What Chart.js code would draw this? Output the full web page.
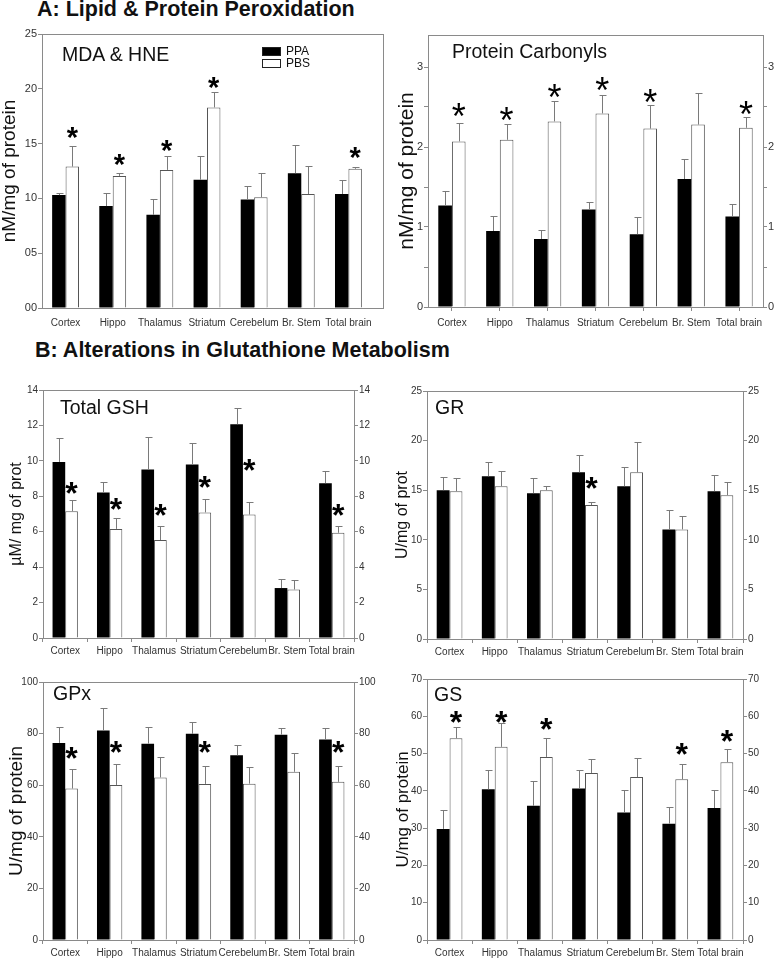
<!DOCTYPE html>
<html>
<head>
<meta charset="utf-8">
<script src="https://cdn.jsdelivr.net/npm/chart.js@4.4.1/dist/chart.umd.min.js"></script>
<style>
  body { margin: 0; background: #fff; width: 775px; height: 960px; position: relative; overflow: hidden;
         font-family: "Liberation Sans", Arial, sans-serif; color: #111; }
  canvas { position: absolute; }
  .head { position: absolute; font-weight: bold; font-size: 21.5px; line-height: 21.5px; white-space: nowrap; }
  .name { position: absolute; font-size: 19.5px; line-height: 19.5px; white-space: nowrap; }
  .key { position: absolute; font-size: 12px; line-height: 12px; white-space: nowrap; }
  .sw { position: absolute; width: 17px; height: 7px; border: 1px solid #222; }
</style>
</head>
<body>
<div class="head" style="left:37px; top:-1px;">A: Lipid &amp; Protein Peroxidation</div>
<div class="head" style="left:35px; top:340px;">B: Alterations in Glutathione Metabolism</div>

<canvas id="mda" width="387" height="320" style="left:0; top:20px;"></canvas>
<canvas id="carb" width="387" height="320" style="left:388px; top:20px;"></canvas>
<canvas id="gsh" width="387" height="285" style="left:0; top:375px;"></canvas>
<canvas id="gr" width="387" height="285" style="left:388px; top:375px;"></canvas>
<canvas id="gpx" width="387" height="295" style="left:0; top:665px;"></canvas>
<canvas id="gs" width="387" height="295" style="left:388px; top:665px;"></canvas>

<div class="name" style="left:62px; top:45px;">MDA &amp; HNE</div>
<div class="name" style="left:452px; top:42px;">Protein Carbonyls</div>
<div class="name" style="left:60px; top:398px;">Total GSH</div>
<div class="name" style="left:435px; top:398px;">GR</div>
<div class="name" style="left:53px; top:684px;">GPx</div>
<div class="name" style="left:434px; top:685px;">GS</div>

<div class="sw" style="left:262px; top:47px; background:#000;"></div>
<div class="key" style="left:286px; top:45px;">PPA</div>
<div class="sw" style="left:262px; top:59px; background:#fff;"></div>
<div class="key" style="left:286px; top:57px;">PBS</div>

<script>
const regions = ['Cortex', 'Hippo', 'Thalamus', 'Striatum', 'Cerebelum', 'Br. Stem', 'Total brain'];

// A: MDA & HNE (nM/mg of protein)
const mdaPPA = [10.3, 9.3, 8.5, 11.7, 9.9, 12.3, 10.4];
const mdaPPAerr = [0.15, 1.15, 1.4, 2.15, 1.2, 2.6, 1.3];
const mdaPBS = [12.9, 12.05, 12.6, 18.3, 10.1, 10.4, 12.7];
const mdaPBSerr = [1.9, 0.25, 1.3, 1.4, 2.2, 2.6, 0.2];
const mdaStars = [16.2, 13.8, 15.0, 20.8, null, null, 14.4];
const mdaTicks = ['00', '05', '10', '15', '20', '25'];

// A: Protein carbonyls (nM/mg of protein)
const carbPPA = [1.27, 0.95, 0.85, 1.22, 0.91, 1.6, 1.13];
const carbPPAerr = [0.18, 0.19, 0.11, 0.09, 0.22, 0.25, 0.16];
const carbPBS = [2.07, 2.09, 2.32, 2.42, 2.23, 2.28, 2.24];
const carbPBSerr = [0.23, 0.2, 0.26, 0.23, 0.29, 0.39, 0.13];
const carbStars = [2.49, 2.43, 2.72, 2.81, 2.66, null, 2.51];

// B: Total GSH (uM/mg of prot)
const gshPPA = [9.94, 8.21, 9.51, 9.79, 12.07, 2.82, 8.74];
const gshPPAerr = [1.36, 0.57, 1.86, 1.24, 0.93, 0.51, 0.66];
const gshPBS = [7.16, 6.16, 5.53, 7.09, 6.97, 2.74, 5.94];
const gshPBSerr = [0.64, 0.64, 0.77, 0.78, 0.72, 0.51, 0.41];
const gshStars = [8.64, 7.7, 7.39, 8.96, 9.92, null, 7.37];

// B: GR (U/mg of prot)
const grPPA = [15.0, 16.4, 14.7, 16.8, 15.4, 11.05, 14.9];
const grPPAerr = [1.3, 1.4, 1.55, 1.7, 1.9, 1.95, 1.6];
const grPBS = [14.9, 15.4, 15.0, 13.5, 16.8, 11.05, 14.5];
const grPBSerr = [1.35, 1.5, 0.45, 0.35, 3.1, 1.3, 1.3];
const grStars = [null, null, null, 16.0, null, null, null];

// B: GPx (U/mg of protein)
const gpxPPA = [76.4, 81.2, 76.1, 79.9, 71.6, 79.6, 77.7];
const gpxPPAerr = [6.2, 8.9, 6.4, 4.7, 4.0, 2.7, 4.4];
const gpxPBS = [58.7, 60.1, 63.0, 60.5, 60.6, 65.2, 61.3];
const gpxPBSerr = [7.5, 8.2, 7.8, 7.1, 6.6, 7.2, 6.3];
const gpxStars = [73.5, 75.7, null, 75.7, null, null, 75.7];

// B: GS (U/mg of protein)
const gsPPA = [29.8, 40.4, 36.0, 40.6, 34.2, 31.2, 35.4];
const gsPPAerr = [5.0, 5.3, 6.7, 5.1, 6.0, 4.6, 4.7];
const gsPBS = [54.1, 51.8, 49.1, 44.8, 43.7, 43.1, 47.7];
const gsPBSerr = [3.1, 6.3, 5.1, 3.7, 5.1, 4.0, 3.5];
const gsStars = [60.4, 60.4, 58.6, null, null, 51.9, 55.3];

Chart.defaults.font.family = '"Liberation Sans", Arial, sans-serif';
Chart.defaults.color = '#222';

const AXIS = '#8a8a8a';

/* box around the plot area */
const frame = {
  id: 'frame',
  afterDraw(chart, args, opts) {
    const a = chart.chartArea, ctx = chart.ctx;
    ctx.save();
    ctx.strokeStyle = AXIS;
    ctx.lineWidth = 1;
    ctx.strokeRect(Math.round(a.left) + 0.5, Math.round(a.top) + 0.5,
      Math.round(a.right - a.left + (opts.extendRight || 0)), Math.round(a.bottom - a.top));
    ctx.restore();
  }
};

/* upper error bars + significance stars */
const errorBars = {
  id: 'errorBars',
  afterDatasetsDraw(chart, args, opts) {
    const ctx = chart.ctx, y = chart.scales.y;
    ctx.save();
    ctx.strokeStyle = '#7a7a7a';
    ctx.lineWidth = 1;
    chart.data.datasets.forEach((ds, i) => {
      chart.getDatasetMeta(i).data.forEach((bar, j) => {
        const x = Math.round(bar.x) + 0.5;
        const top = Math.round(y.getPixelForValue(ds.data[j] + ds.errors[j])) + 0.5;
        ctx.beginPath();
        ctx.moveTo(x, bar.y);
        ctx.lineTo(x, top);
        ctx.moveTo(x - 3, top);
        ctx.lineTo(x + 4, top);
        ctx.stroke();
      });
    });
    const stars = opts.values || [];
    const meta = chart.getDatasetMeta(1);
    ctx.fillStyle = '#000';
    ctx.font = opts.font;
    ctx.textAlign = 'center';
    ctx.textBaseline = 'alphabetic';
    stars.forEach((v, j) => {
      if (v == null) return;
      ctx.fillText('*', meta.data[j].x, y.getPixelForValue(v) + opts.size * 0.58);
    });
    ctx.restore();
  }
};

function panel(id, o) {
  const yAxis = (pos) => ({
    position: pos,
    min: 0,
    max: o.max,
    afterFit: s => { s.width = pos === 'left' ? o.yWidth : o.y2Width; },
    afterBuildTicks: s => { s.ticks = s.ticks.filter(t => t.value <= o.top); },
    border: { display: true, color: AXIS },
    grid: { display: true, drawOnChartArea: false, drawTicks: true, tickLength: 4, color: AXIS },
    ticks: {
      stepSize: o.step,
      padding: 1,
      color: '#333',
      font: { size: o.tickSize },
      callback: o.tickLabel
    },
    title: pos === 'left' ? {
      display: true, text: o.yTitle, color: '#111',
      font: { size: o.titleSize, lineHeight: 1 }, padding: { top: o.titlePad, bottom: 0 }
    } : { display: false }
  });

  const scales = {
    x: {
      afterFit: s => { s.height = o.xHeight; },
      border: { display: true, color: AXIS },
      grid: { display: o.xTicks !== 'none', drawOnChartArea: false, drawTicks: o.xTicks !== 'none',
              tickLength: 4, offset: o.xTicks === 'between', color: AXIS },
      ticks: { padding: o.xPad, color: '#333', font: { size: o.xSize }, maxRotation: 0, autoSkip: false }
    },
    y: yAxis('left')
  };
  if (o.y2Width) scales.y2 = yAxis('right');

  return new Chart(document.getElementById(id), {
    type: 'bar',
    data: {
      labels: regions,
      datasets: [
        { label: 'PPA', data: o.ppa, errors: o.ppaErr, backgroundColor: '#000', borderWidth: 0, yAxisID: 'y' },
        { label: 'PBS', data: o.pbs, errors: o.pbsErr, backgroundColor: '#fff', borderColor: '#555',
          borderWidth: 1, yAxisID: 'y' }
      ]
    },
    options: {
      responsive: false,
      animation: false,
      devicePixelRatio: 1,
      datasets: { bar: { barPercentage: 1, categoryPercentage: 0.57 } },
      layout: { padding: { top: o.padTop, right: o.padRight || 0, left: 0, bottom: 0 } },
      plugins: {
        legend: { display: false },
        tooltip: { enabled: false },
        frame: { extendRight: o.extendRight || 0 },
        errorBars: { values: o.stars, font: o.starFont, size: o.starSize }
      },
      scales
    },
    plugins: [errorBars, frame]
  });
}

const intLabel = v => (Number.isInteger(v) ? v : '');
const bStar = 'bold 32px "Liberation Sans", Arial, sans-serif';

panel('mda', {
  ppa: mdaPPA, ppaErr: mdaPPAerr, pbs: mdaPBS, pbsErr: mdaPBSerr, stars: mdaStars,
  max: 25, top: 25, step: 5, tickLabel: (v, i) => mdaTicks[i], tickSize: 11,
  yTitle: 'nM/mg of protein', titleSize: 19, titlePad: 0,
  yWidth: 42, padTop: 14, padRight: 15, extendRight: 11, xHeight: 32,
  xTicks: 'none', xPad: 9, xSize: 10,
  starFont: 'bold 29px "Liberation Sans", Arial, sans-serif', starSize: 29
});

panel('carb', {
  ppa: carbPPA, ppaErr: carbPPAerr, pbs: carbPBS, pbsErr: carbPBSerr, stars: carbStars,
  max: 3.4, top: 3, step: 0.5, tickLabel: intLabel, tickSize: 11,
  yTitle: 'nM/mg of protein', titleSize: 21, titlePad: 9,
  yWidth: 40, y2Width: 12, padTop: 15, xHeight: 33,
  xTicks: 'center', xPad: 6, xSize: 10,
  starFont: '36px "Liberation Sans", Arial, sans-serif', starSize: 36
});

panel('gsh', {
  ppa: gshPPA, ppaErr: gshPPAerr, pbs: gshPBS, pbsErr: gshPBSerr, stars: gshStars,
  max: 14, top: 14, step: 2, tickLabel: intLabel, tickSize: 10,
  yTitle: 'µM/ mg of prot', titleSize: 16, titlePad: 9,
  yWidth: 43, y2Width: 33, padTop: 15, xHeight: 22,
  xTicks: 'between', xPad: 3, xSize: 10,
  starFont: bStar, starSize: 32
});

panel('gr', {
  ppa: grPPA, ppaErr: grPPAerr, pbs: grPBS, pbsErr: grPBSerr, stars: grStars,
  max: 25, top: 25, step: 5, tickLabel: intLabel, tickSize: 10,
  yTitle: 'U/mg of prot', titleSize: 16, titlePad: 7,
  yWidth: 39, y2Width: 32, padTop: 16, xHeight: 21,
  xTicks: 'between', xPad: 3, xSize: 10,
  starFont: bStar, starSize: 32
});

panel('gpx', {
  ppa: gpxPPA, ppaErr: gpxPPAerr, pbs: gpxPBS, pbsErr: gpxPBSerr, stars: gpxStars,
  max: 100, top: 100, step: 20, tickLabel: intLabel, tickSize: 10,
  yTitle: 'U/mg of protein', titleSize: 19, titlePad: 7,
  yWidth: 43, y2Width: 33, padTop: 17, xHeight: 20,
  xTicks: 'between', xPad: 3, xSize: 10,
  starFont: bStar, starSize: 32
});

panel('gs', {
  ppa: gsPPA, ppaErr: gsPPAerr, pbs: gsPBS, pbsErr: gsPBSerr, stars: gsStars,
  max: 70, top: 70, step: 10, tickLabel: intLabel, tickSize: 10,
  yTitle: 'U/mg of protein', titleSize: 17, titlePad: 7,
  yWidth: 39, y2Width: 32, padTop: 14, xHeight: 20,
  xTicks: 'between', xPad: 3, xSize: 10,
  starFont: bStar, starSize: 32
});
</script>
</body>
</html>
